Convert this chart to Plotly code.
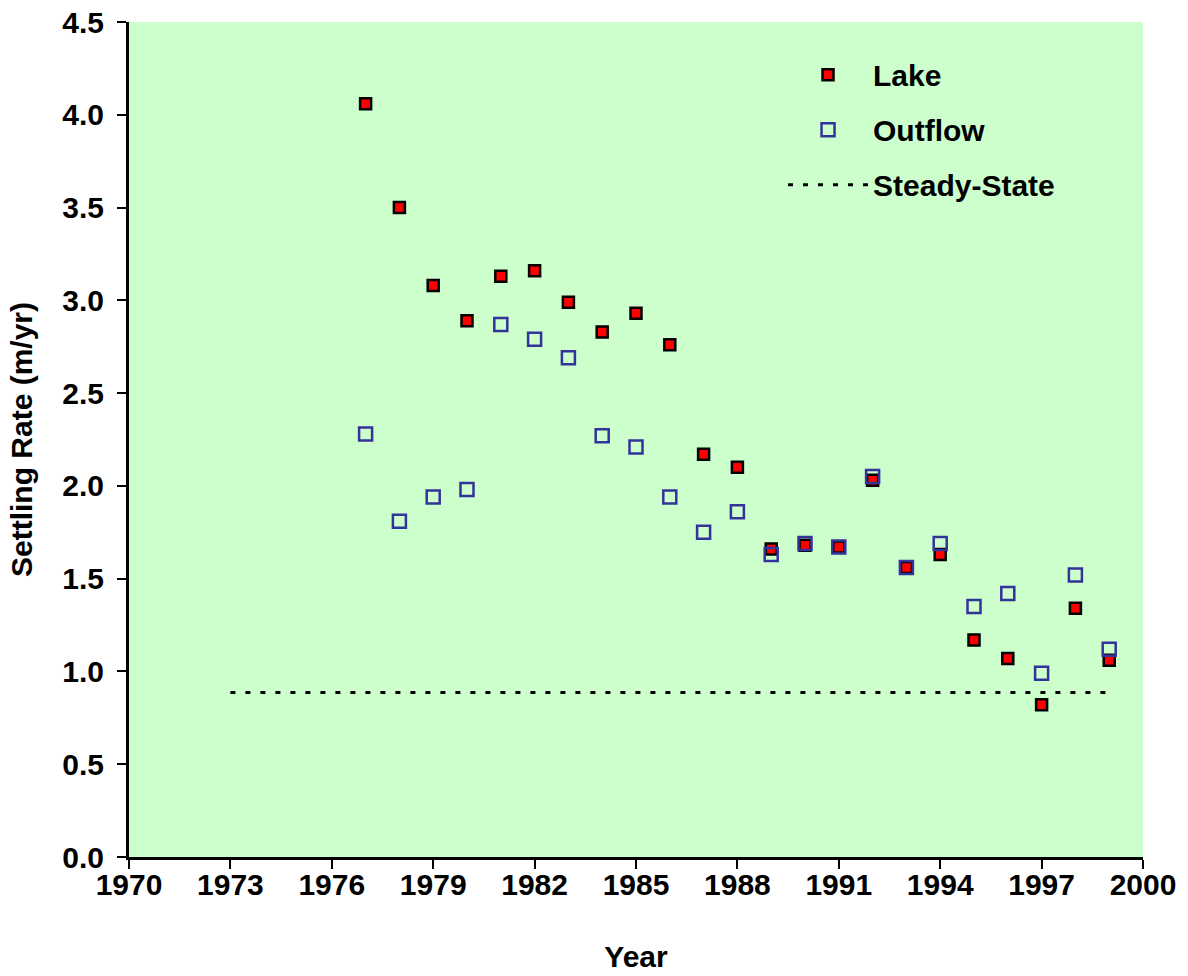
import plotly.graph_objects as go

years = list(range(1977, 2000))
lake = [4.06, 3.50, 3.08, 2.89, 3.13, 3.16, 2.99, 2.83, 2.93, 2.76,
        2.17, 2.10, 1.66, 1.68, 1.67, 2.03, 1.56, 1.63, 1.17, 1.07,
        0.82, 1.34, 1.06]
outflow = [2.28, 1.81, 1.94, 1.98, 2.87, 2.79, 2.69, 2.27, 2.21, 1.94,
           1.75, 1.86, 1.63, 1.69, 1.67, 2.05, 1.56, 1.69, 1.35, 1.42,
           0.99, 1.52, 1.12]
steady_x = [1973, 1999]
steady_y = [0.887, 0.887]
x_ticks = list(range(1970, 2001, 3))
y_ticks = [i * 0.5 for i in range(10)]

FONT = "Liberation Sans, Arial, sans-serif"
FS = 30

fig = go.Figure()
fig.add_trace(go.Scatter(
    x=years, y=lake, mode="markers", name="<b>Lake</b>", legendgroup="a",
    marker=dict(symbol="square", size=11, color="#FF0000",
                line=dict(color="#000000", width=2.5)),
))
fig.add_trace(go.Scatter(
    x=years, y=outflow, mode="markers", name="<b>Outflow</b>", legendgroup="b",
    marker=dict(symbol="square-open", size=13, color="#333399",
                line=dict(color="#333399", width=2.5)),
))
fig.add_trace(go.Scatter(
    x=steady_x, y=steady_y, mode="lines", name="<b>Steady-State</b>", legendgroup="c",
    line=dict(color="#000000", width=3, dash="5px,10px"),
))

fig.update_layout(
    width=1188, height=976,
    margin=dict(l=129, r=45, t=22, b=119),
    paper_bgcolor="white",
    plot_bgcolor="#CCFFCC",
    font=dict(family=FONT, size=FS, color="black"),
    showlegend=True,
    legend=dict(x=0.645, y=0.968, xanchor="left", yanchor="top",
                bgcolor="rgba(0,0,0,0)", itemwidth=80, tracegroupgap=13,
                font=dict(family=FONT, size=FS, color="black")),
    xaxis=dict(
        range=[1970, 2000], tickmode="array", tickvals=x_ticks,
        ticktext=[f"<b>{t}</b>" for t in x_ticks],
        showgrid=False, zeroline=False, showline=True, linecolor="black",
        linewidth=3, ticks="outside", ticklen=9, tickwidth=2, tickcolor="black",
        tickfont=dict(family=FONT, size=FS), ticklabelstandoff=-10,
        ticklabeloverflow="allow", automargin=False,
        title=dict(text="<b>Year</b>", font=dict(family=FONT, size=FS), standoff=46),
    ),
    yaxis=dict(
        range=[0, 4.5], tickmode="array", tickvals=y_ticks,
        ticktext=[f"<b>{t:.1f}</b>" for t in y_ticks],
        showgrid=False, zeroline=False, showline=True, linecolor="black",
        linewidth=3, ticks="outside", ticklen=9, tickwidth=2, tickcolor="black",
        tickfont=dict(family=FONT, size=FS), ticklabelstandoff=7,
        ticklabeloverflow="allow", automargin=False,
        title=dict(text="<b>Settling Rate (m/yr)</b>", font=dict(family=FONT, size=FS), standoff=21),
    ),
)

# remove the default 8px page margin so the figure fills the window exactly
fig.write_html("out.html", config={"displayModeBar": False},
               post_script="document.body.style.margin='0';")
